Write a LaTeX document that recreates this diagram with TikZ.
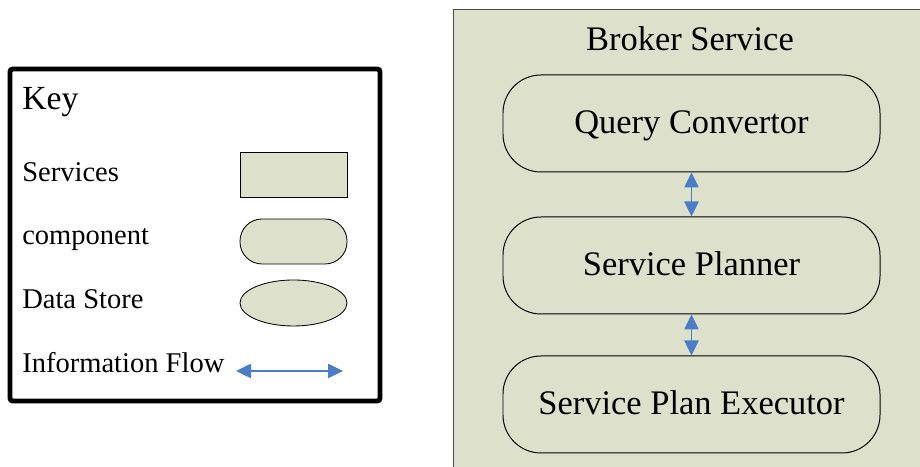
\documentclass[tikz,border=0pt]{standalone}
\usepackage{fontspec}
\setmainfont{Liberation Serif}
\usetikzlibrary{arrows.meta,shapes.geometric}
\definecolor{boxfill}{RGB}{221,225,204}
\definecolor{flowblue}{RGB}{74,125,201}

\begin{document}
\begin{tikzpicture}[
  legendtext/.style={anchor=base west,inner sep=0pt,font=\fontsize{20.3}{24}\selectfont},
  comp/.style={draw,fill=boxfill,line width=0.7pt,rounded corners=0.95cm,minimum width=9.425cm,minimum height=2.425cm,text height=16.2pt,text depth=2.5pt,font=\fontsize{24.5}{29}\selectfont},
  flow/.style={flowblue,line width=0.8pt,{Triangle[length=0.375cm,width=0.36cm]}-{Triangle[length=0.375cm,width=0.36cm]}}
]
\useasboundingbox (0,0) rectangle (23,11.675);
\clip (0,0) rectangle (23,11.675);

% key
\draw[line width=3.5pt,rounded corners=2pt] (0.25,1.65) rectangle (9.5,9.95);
\node[legendtext,font=\fontsize{24}{29}\selectfont] (key) at (0.55,8.925) {Key};
\node[legendtext] (servicestxt) at (0.55,7.125) {Services};
\node[legendtext] (comptxt) at (0.55,5.55) {component};
\node[legendtext] (storetxt) at (0.55,3.95) {Data Store};
\node[legendtext] (flowtxt) at (0.55,2.35) {Information Flow};

\node[draw,fill=boxfill,line width=0.6pt,minimum width=2.675cm,minimum height=1.125cm] (servicesym) at (7.3375,7.3125) {};
\node[draw,fill=boxfill,line width=0.6pt,rounded corners=0.55cm,minimum width=2.675cm,minimum height=1.125cm] (compsym) at (7.3375,5.6375) {};
\node[draw,fill=boxfill,line width=0.6pt,ellipse,minimum width=2.675cm,minimum height=1.15cm,inner sep=0pt] (storesym) at (7.3375,4.1) {};
\coordinate (flowl) at (5.9,2.4);
\coordinate (flowr) at (8.575,2.4);
\draw[flow] (flowl) -- (flowr);

% broker service
\draw[fill=boxfill,draw=black!70,line width=0.7pt] (11.325,-0.5) rectangle (23.5,11.425);
\node[font=\fontsize{24.5}{29}\selectfont,anchor=base] (broker) at (17.25,10.4) {Broker Service};

\node[comp] (qc) at (17.2875,8.5875) {Query Convertor};
\node[comp] (sp) at (17.2875,5.0375) {Service Planner};
\node[comp] (spe) at (17.2875,1.5625) {Service Plan Executor};

\draw[flow] (qc) -- (sp);
\draw[flow] (sp) -- (spe);

\end{tikzpicture}
\end{document}
